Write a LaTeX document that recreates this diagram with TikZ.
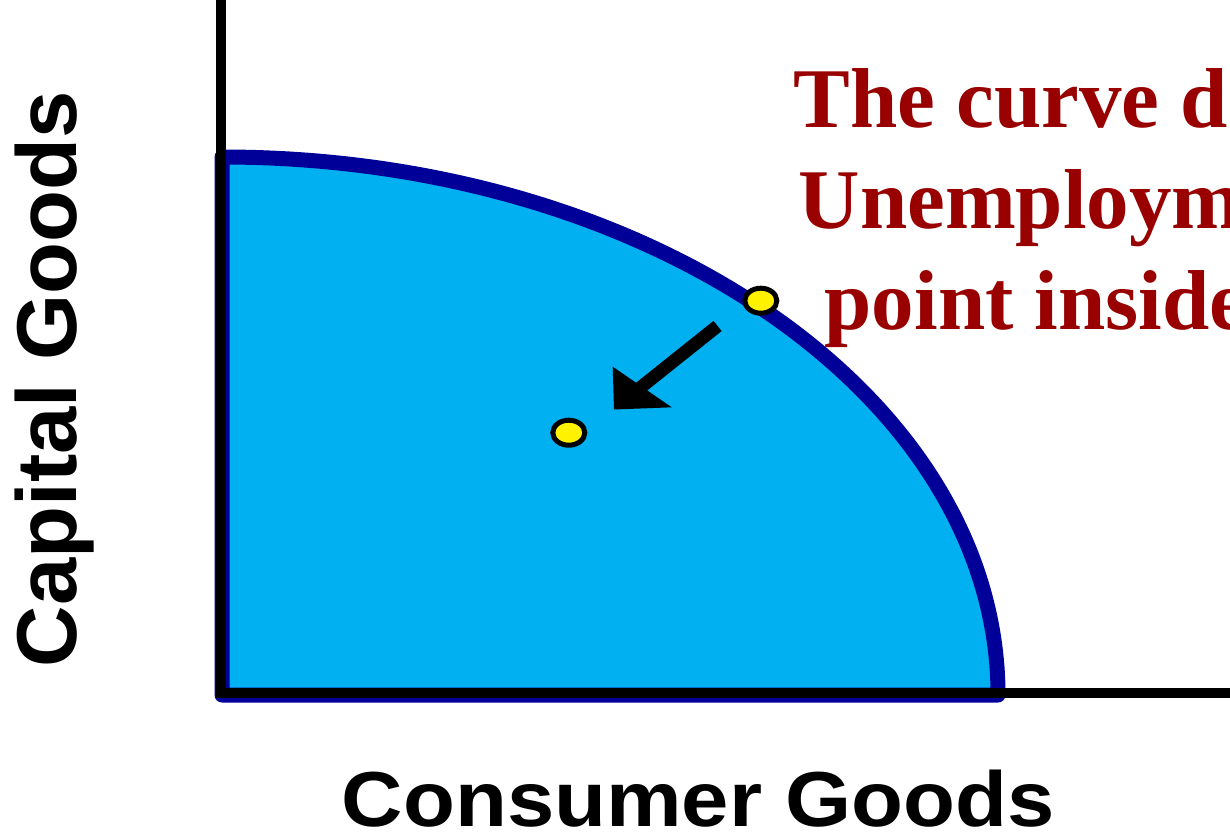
\documentclass[tikz,border=0pt]{standalone}
\usepackage{fontspec}
\setmainfont{Liberation Serif}
\newfontfamily\arialfont{Liberation Sans}
\usepackage{graphicx}
\usetikzlibrary{shapes.geometric}
\definecolor{ppfill}{HTML}{00B0F0}
\definecolor{ppline}{HTML}{000099}
\definecolor{ppred}{HTML}{990000}
\tikzset{
  axisline/.style={draw=black, line width=10pt, line join=miter},
  frontier/.style={fill=ppfill, draw=ppline, line width=15pt, line join=round},
  dot/.style={ellipse, draw=black, line width=5pt, fill=yellow, minimum width=32pt, minimum height=25pt, inner sep=0pt},
  shaft/.style={draw=black, line width=13pt},
  headfill/.style={fill=black},
  axislabel/.style={font=\arialfont\bfseries\fontsize{85}{100}\selectfont, inner sep=0pt, anchor=base},
  note/.style={text=ppred, font=\bfseries\fontsize{85}{102}\selectfont, inner sep=0pt, anchor=base west}
}
\begin{document}
\begin{tikzpicture}[x=1pt,y=-1pt]
\useasboundingbox (0,0) rectangle (1230,838);
\clip (0,0) rectangle (1230,838);
% production possibilities region
\coordinate (top) at (222,157);
\coordinate (corner) at (222,695);
\filldraw[frontier] (top) arc[start angle=90, end angle=0, x radius=776pt, y radius=538pt] -- (corner) -- cycle;
% axes
\coordinate (ytop) at (221,-5);
\coordinate (xend) at (1235,692.5);
\draw[axisline] (ytop) |- (xend);
% arrow
\coordinate (arrowtail) at (717.5,326);
\coordinate (arrowhead) at (633,393.5);
\coordinate (headtip) at (614,409.5);
\coordinate (headl) at (612.7,366.7);
\coordinate (headr) at (671.7,407.3);
\draw[shaft] (arrowtail) -- (arrowhead);
\fill[headfill] (headtip) -- (headl) -- (headr) -- cycle;
% points
\node[dot] (onpt) at (760.8,300.7) {};
\node[dot] (inpt) at (568.8,432.7) {};
% labels
\node[axislabel, rotate=90] (ylab) at (76,379) {Capital Goods};
\node[axislabel] (xlab) at (698.5,826) {\scalebox{1.09}[1]{\fontsize{78}{90}\selectfont Consumer Goods}};
\node[note] (l1) at (793.6,127) {The curve d};
\node[note] (l2) at (798.6,228) {Unemploym};
\node[note] (l3) at (824.5,329) {point inside};
\end{tikzpicture}
\end{document}
